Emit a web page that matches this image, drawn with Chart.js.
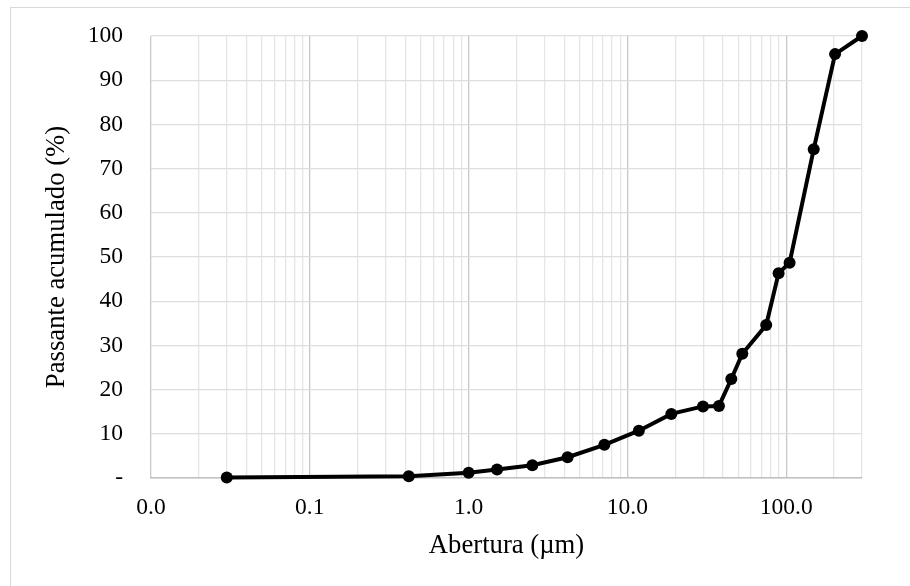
<!DOCTYPE html>
<html>
<head>
<meta charset="utf-8">
<script src="https://cdn.jsdelivr.net/npm/chart.js@4"></script>
<style>
    html, body { margin: 0; padding: 0; background: #fff; overflow: hidden; }
    #moldura { position: absolute; left: 10px; top: 7px; width: 1000px; height: 700px; border: 1px solid #d9d9d9; }
    #grafico { position: absolute; left: 0; top: 0; }
</style>
</head>
<body>
<div id="moldura"></div>
<canvas id="grafico" width="910" height="586"></canvas>
<script>
// ======================== DADOS ========================
const abertura = [0.03, 0.42, 1.0, 1.51, 2.52, 4.2, 7.16, 11.8, 18.9, 29.9, 37.7, 45.1, 52.9, 74.8, 89.5, 105, 149, 203, 300];
const passante = [0.1, 0.4, 1.2, 1.9, 2.9, 4.7, 7.5, 10.7, 14.5, 16.2, 16.3, 22.4, 28.1, 34.6, 46.3, 48.7, 74.4, 95.9, 100];

// ticks do eixo x (log): décadas e subdivisões
const decadas = [0.01, 0.1, 1, 10, 100];
const subdivisoes = [1, 2, 3, 4, 5, 6, 7, 8, 9];
const xMin = 0.01;
const xMax = 300;
const yTicks = [0, 10, 20, 30, 40, 50, 60, 70, 80, 90, 100];

const familia = "'Liberation Serif', 'Times New Roman', serif";
const fonteTicks = { family: familia, size: 23.5 };
// lineHeight baixo só p/ não empurrar o topo da área do gráfico
const fonteTicksY = { family: familia, size: 23.5, lineHeight: 0.3 };
const fonteTitulo = { family: familia, size: 26.7 };

const ehDecada = (v) => Math.abs(Math.log10(v) - Math.round(Math.log10(v))) < 1e-9;

const ticksX = [];
decadas.forEach((d) => {
    subdivisoes.forEach((s) => {
        const v = +(d * s).toPrecision(6);
        if (v <= xMax) ticksX.push(v);
    });
});
if (ticksX[ticksX.length - 1] !== xMax) ticksX.push(xMax);

new Chart(document.getElementById('grafico').getContext('2d'), {
    type: 'line',
    data: {
        datasets: [
            {
                label: 'Passante acumulado',
                data: abertura.map((x, i) => ({ x, y: passante[i] })),
                borderColor: '#000',
                backgroundColor: '#000',
                borderWidth: 4,
                pointRadius: 6,
                pointHoverRadius: 6,
                pointBackgroundColor: '#000',
                pointBorderWidth: 0,
                tension: 0,
                clip: false,
            },
        ],
    },
    options: {
        responsive: false,
        animation: false,
        layout: { padding: { left: 0, top: 36, right: 48, bottom: 0 } },
        plugins: { legend: { display: false }, tooltip: { enabled: false } },
        scales: {
            x: {
                type: 'logarithmic',
                min: xMin,
                max: xMax,
                afterBuildTicks: (scale) => {
                    scale.ticks = ticksX.map((v) => ({ value: v }));
                },
                afterFit: (scale) => { scale.height = 108; },
                ticks: {
                    autoSkip: false,
                    maxRotation: 0,
                    padding: 16,
                    color: '#000',
                    font: fonteTicks,
                    callback: (v) => (ehDecada(v) ? v.toFixed(1) : ''),
                },
                grid: {
                    drawTicks: false,
                    color: (ctx) => (ctx.tick && ehDecada(ctx.tick.value) ? '#c8c8c8' : '#e6e6e6'),
                    lineWidth: 1.3,
                },
                border: { display: true, color: '#bfbfbf', width: 1.5 },
                title: {
                    display: true,
                    text: 'Abertura (µm)',
                    color: '#000',
                    font: fonteTitulo,
                    padding: { top: 0, bottom: 24 },
                },
            },
            y: {
                min: 0,
                max: 100,
                afterBuildTicks: (scale) => {
                    scale.ticks = yTicks.map((v) => ({ value: v }));
                },
                afterFit: (scale) => { scale.width = 151; },
                ticks: {
                    padding: 28,
                    color: '#000',
                    font: fonteTicksY,
                    callback: (v) => (v === 0 ? '-' : v),
                },
                grid: { drawTicks: false, color: '#dedede', lineWidth: 1.3 },
                border: { display: false },
                title: {
                    display: true,
                    text: 'Passante acumulado (%)',
                    color: '#000',
                    font: fonteTitulo,
                    padding: { top: 41, bottom: 0 },
                },
            },
        },
    },
});
</script>
</body>
</html>
